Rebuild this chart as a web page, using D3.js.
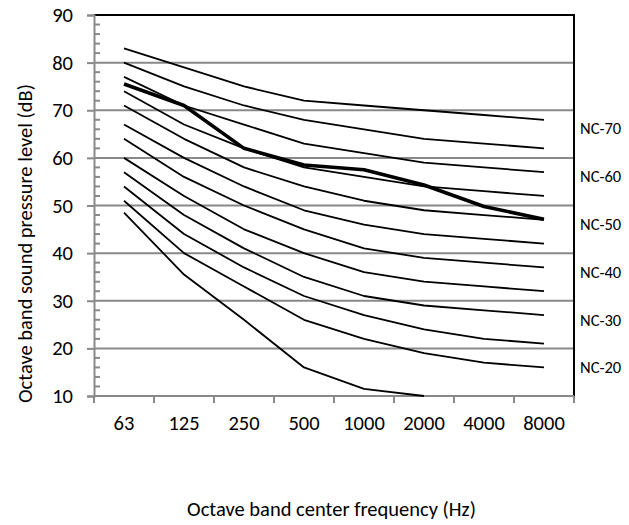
<!DOCTYPE html>
<html>
<head>
<meta charset="utf-8">
<script src="https://cdn.jsdelivr.net/npm/d3@7"></script>
<style>
  html, body { margin: 0; padding: 0; background: #fff; }
  svg { display: block; font-family: Carlito, Calibri, Lato, sans-serif; }
</style>
</head>
<body>
<svg id="chart" width="629" height="525"></svg>
<script>
// ---- data ----
const frequencies = ["63", "125", "250", "500", "1000", "2000", "4000", "8000"];
const yTicks = [10, 20, 30, 40, 50, 60, 70, 80, 90];

const nc70 = [83, 79, 75, 72, 71, 70, 69, 68];
const nc65 = [80, 75, 71, 68, 66, 64, 63, 62];
const nc60 = [77, 71, 67, 63, 61, 59, 58, 57];
const nc55 = [74, 67, 62, 58, 56, 54, 53, 52];
const nc50 = [71, 64, 58, 54, 51, 49, 48, 47];
const nc45 = [67, 60, 54, 49, 46, 44, 43, 42];
const nc40 = [64, 56, 50, 45, 41, 39, 38, 37];
const nc35 = [60, 52, 45, 40, 36, 34, 33, 32];
const nc30 = [57, 48, 41, 35, 31, 29, 28, 27];
const nc25 = [54, 44, 37, 31, 27, 24, 22, 21];
const nc20 = [51, 40, 33, 26, 22, 19, 17, 16];
const nc15 = [48.5, 35.5, 26, 16, 11.5, 10, null, null];
const measured = [75.5, 71, 62, 58.5, 57.5, 54.3, 49.8, 47.1];

const ncLabels = ["NC-70", "NC-60", "NC-50", "NC-40", "NC-30", "NC-20"];
const ncLabelLevels = [66.3, 56.2, 46.1, 36, 25.9, 16];

const yTitle = "Octave band sound pressure level (dB)";
const xTitle = "Octave band center frequency (Hz)";

// ---- layout ----
const svg = d3.select("#chart");
const mLeft = 94, mRight = 574, mTop = 15, mBottom = 396;

const x = d3.scaleBand().domain(frequencies).range([mLeft, mRight]).padding(0);
const y = d3.scaleLinear().domain([10, 90]).range([mBottom, mTop]);
const cx = f => x(f) + x.bandwidth() / 2;

const gridColor = "#898989";
const fontFam = "Carlito, Calibri, Lato, sans-serif";
const tickFont = 20.5;

// gridlines
svg.append("g").selectAll("line")
  .data(yTicks.filter(v => v > 10 && v < 90))
  .join("line")
  .attr("x1", mLeft).attr("x2", mRight)
  .attr("y1", d => y(d)).attr("y2", d => y(d))
  .attr("stroke", gridColor).attr("stroke-width", 2);

// top border (black)
svg.append("line")
  .attr("x1", mLeft).attr("x2", mRight + 1)
  .attr("y1", y(90)).attr("y2", y(90))
  .attr("stroke", "#000").attr("stroke-width", 2);

// right border (black)
svg.append("line")
  .attr("x1", mRight).attr("x2", mRight)
  .attr("y1", y(90)).attr("y2", y(10))
  .attr("stroke", "#000").attr("stroke-width", 2);

// Y axis
const yAxis = d3.axisLeft(y).tickValues(yTicks).tickSize(7).tickPadding(14).tickFormat(d3.format("d"));
const gy = svg.append("g").attr("transform", `translate(${mLeft},0)`).call(yAxis);
gy.select(".domain").attr("stroke", gridColor).attr("stroke-width", 2);
gy.selectAll(".tick line").attr("stroke", gridColor).attr("stroke-width", 2);
gy.selectAll(".tick text").attr("font-size", tickFont).attr("fill", "#000")
  .attr("font-family", fontFam);

// minor ticks every 2 dB, inside
const minor = d3.range(12, 90, 2).filter(v => v % 10 !== 0);
svg.append("g").selectAll("line").data(minor).join("line")
  .attr("x1", mLeft).attr("x2", mLeft + 6)
  .attr("y1", d => y(d)).attr("y2", d => y(d))
  .attr("stroke", gridColor).attr("stroke-width", 2);

// X axis
const gx = svg.append("g").attr("transform", `translate(0,${mBottom})`)
  .call(d3.axisBottom(x).tickSize(0).tickPadding(19));
gx.select(".domain").remove();
gx.selectAll(".tick text").attr("font-size", tickFont).attr("fill", "#000")
  .attr("font-family", fontFam);
svg.append("line")
  .attr("x1", mLeft - 1).attr("x2", mRight)
  .attr("y1", mBottom).attr("y2", mBottom)
  .attr("stroke", gridColor).attr("stroke-width", 2);
// category boundary ticks
const bounds = frequencies.map(f => x(f)).concat([x(frequencies[frequencies.length - 1]) + x.bandwidth()]);
svg.append("g").selectAll("line").data(bounds).join("line")
  .attr("x1", d => d).attr("x2", d => d)
  .attr("y1", mBottom).attr("y2", mBottom + 7)
  .attr("stroke", gridColor).attr("stroke-width", 2);

// curves
const line = d3.line()
  .defined(d => d.v !== null)
  .x(d => cx(d.f)).y(d => y(d.v));
const curves = [nc70, nc65, nc60, nc55, nc50, nc45, nc40, nc35, nc30, nc25, nc20, nc15];
svg.append("g").selectAll("path").data(curves).join("path")
  .attr("d", vals => line(frequencies.map((f, i) => ({ f, v: vals[i] }))))
  .attr("fill", "none").attr("stroke", "#000").attr("stroke-width", 1.8)
  .attr("stroke-linejoin", "round");

svg.append("path")
  .attr("d", line(frequencies.map((f, i) => ({ f, v: measured[i] }))))
  .attr("fill", "none").attr("stroke", "#000").attr("stroke-width", 3.6)
  .attr("stroke-linejoin", "round");

// NC labels
svg.append("g").selectAll("text").data(ncLabels).join("text")
  .attr("x", mRight + 6)
  .attr("y", (d, i) => y(ncLabelLevels[i]))
  .attr("dy", "0.35em")
  .attr("font-size", 16.5)
  .text(d => d);

// axis titles
svg.append("text")
  .attr("transform", `translate(32,${(78 + 409) / 2}) rotate(-90)`)
  .attr("text-anchor", "middle")
  .attr("font-size", 20.5)
  .text(yTitle);

svg.append("text")
  .attr("x", (185 + 478) / 2).attr("y", 516)
  .attr("text-anchor", "middle")
  .attr("font-size", 20.5)
  .text(xTitle);
</script>
</body>
</html>
